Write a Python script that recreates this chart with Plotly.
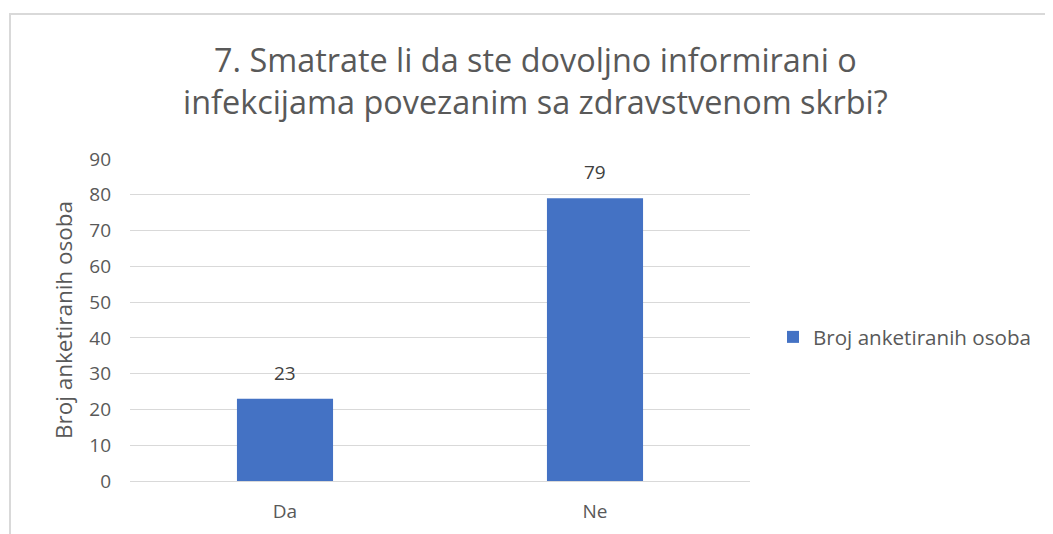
import plotly.graph_objects as go

categories = ["Da", "Ne"]
values = [23, 79]
series_name = "Broj anketiranih osoba"
title_lines = ["7. Smatrate li da ste dovoljno informirani o",
               "infekcijama povezanim sa zdravstvenom skrbi?"]
y_title = "Broj anketiranih osoba"
y_ticks = [0, 10, 20, 30, 40, 50, 60, 70, 80, 90]

# page body adds an 8px offset; figure pixel coords = screen coords - 8
W, H = 1045, 526
L, R, T, B = 122, 303, 151, 53
pw, ph = W - L - R, H - T - B

def px(x):
    return (x - L) / pw

def py(y):
    return (H - B - y) / ph

font_family = "Open Sans, Noto Sans, sans-serif"
grey = "#595959"

fig = go.Figure()
fig.add_trace(go.Bar(
    x=categories, y=values, name=series_name,
    marker=dict(color="#4472c4", line=dict(width=0)),
))

for c, v in zip(categories, values):
    fig.add_annotation(
        x=c, y=v, xref="x", yref="y", text=str(v), showarrow=False,
        yanchor="bottom", yshift=11,
        font=dict(size=19, color="#404040", family=font_family),
    )

fig.update_layout(
    width=W, height=H,
    margin=dict(l=L, r=R, t=T, b=B, autoexpand=False),
    paper_bgcolor="white", plot_bgcolor="white",
    bargap=0.69,
    showlegend=True,
    legend=dict(x=px(765), y=py(329), xanchor="left", yanchor="middle",
                font=dict(size=20.6, color=grey, family=font_family),
                itemwidth=30, bgcolor="rgba(0,0,0,0)"),
    xaxis=dict(showgrid=False, showline=False, zeroline=False, ticks="",
               ticklabelstandoff=17,
               tickfont=dict(size=19, color=grey, family=font_family)),
    yaxis=dict(range=[0, 90], tickvals=y_ticks, showgrid=True,
               gridcolor="#d9d9d9", gridwidth=1.3, zeroline=True,
               zerolinecolor="#d9d9d9", zerolinewidth=1.3,
               showline=False, ticks="", ticklabelstandoff=18,
               tickfont=dict(size=19, color=grey, family=font_family)),
    font=dict(family=font_family, color=grey),
)

fig.update_yaxes(title=dict(text=y_title, standoff=10,
                            font=dict(size=22.5, color=grey, family=font_family)))

fig.add_annotation(
    text="<br>".join(title_lines), xref="paper", yref="paper",
    x=px(527.5), y=py(72), xanchor="center", yanchor="middle",
    showarrow=False, align="center",
    font=dict(size=32.4, color=grey, family=font_family),
)

fig.add_shape(type="rect", xref="paper", yref="paper",
              x0=px(2), x1=px(1070), y0=py(560), y1=py(6),
              line=dict(color="#d9d9d9", width=2), fillcolor="rgba(0,0,0,0)",
              layer="below")

fig.write_html("out.html")
